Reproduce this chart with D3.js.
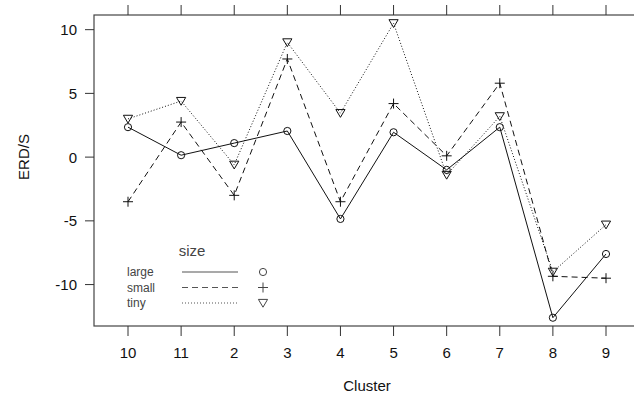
<!DOCTYPE html>
<meta charset='utf-8'>
<script src='https://d3js.org/d3.v7.min.js'></script>
<style>
body { margin: 0; background: #fff; }
text { font-family: "Liberation Sans", Arial, sans-serif; }
</style>
<body>
<script>
var clusters = ['10', '11', '2', '3', '4', '5', '6', '7', '8', '9'];
var sizes = ['large', 'small', 'tiny'];
var large = [2.35, 0.15, 1.1, 2.05, -4.85, 1.95, -1.0, 2.35, -12.6, -7.6];
var small = [-3.5, 2.75, -3.0, 7.7, -3.5, 4.2, 0.1, 5.8, -9.35, -9.5];
var tiny = [3.0, 4.4, -0.6, 9.0, 3.45, 10.5, -1.4, 3.2, -9.0, -5.3];
var yTicks = [-10, -5, 0, 5, 10];

var width = 634, height = 396;
var boxL = 94, boxT = 15, boxR = 640, boxB = 326;

var svg = d3.select('body').append('svg').attr('width', width).attr('height', height);

var x = d3.scalePoint().domain(clusters).range([128, 606]);
var y = d3.scaleLinear().domain([-13.25, 11.15]).range([boxB, boxT]);

var series = [
  {name: 'large', values: large, dash: null, shape: 'circle'},
  {name: 'small', values: small, dash: '6,4', shape: 'plus'},
  {name: 'tiny', values: tiny, dash: '1,2', shape: 'tri'}
];

function symbol(g, shape, cx, cy, col) {
  if (shape == 'circle') {
    g.append('circle').attr('cx', cx).attr('cy', cy).attr('r', 3.6)
      .attr('fill', 'none').attr('stroke', col).attr('stroke-width', 1);
  } else if (shape == 'plus') {
    g.append('path').attr('d', 'M' + (cx - 5) + ',' + cy + 'H' + (cx + 5) + 'M' + cx + ',' + (cy - 5) + 'V' + (cy + 5))
      .attr('fill', 'none').attr('stroke', col).attr('stroke-width', 1);
  } else {
    g.append('path').attr('d', 'M' + (cx - 4.6) + ',' + (cy - 3.6) + 'H' + (cx + 4.6) + 'L' + cx + ',' + (cy + 4.2) + 'Z')
      .attr('fill', 'none').attr('stroke', col).attr('stroke-width', 1);
  }
}

// box
svg.append('rect').attr('x', boxL).attr('y', boxT).attr('width', boxR - boxL).attr('height', boxB - boxT)
  .attr('fill', 'none').attr('stroke', '#444').attr('stroke-width', 1.2);

// x ticks top and bottom
clusters.forEach(function(c) {
  svg.append('line').attr('x1', x(c)).attr('x2', x(c)).attr('y1', boxT - 10).attr('y2', boxT).attr('stroke', '#333');
  svg.append('line').attr('x1', x(c)).attr('x2', x(c)).attr('y1', boxB).attr('y2', boxB + 10).attr('stroke', '#333');
  svg.append('text').attr('x', x(c)).attr('y', 358).attr('text-anchor', 'middle')
    .attr('font-size', 15).attr('fill', '#111').text(c);
});

yTicks.forEach(function(t) {
  svg.append('line').attr('x1', boxL - 9).attr('x2', boxL).attr('y1', y(t)).attr('y2', y(t)).attr('stroke', '#333');
  svg.append('text').attr('x', 77).attr('y', y(t)).attr('dy', '0.36em').attr('text-anchor', 'end')
    .attr('font-size', 15).attr('fill', '#111').text(t);
});

svg.append('text').attr('transform', 'translate(29,157) rotate(-90)').attr('text-anchor', 'middle')
  .attr('font-size', 15).attr('fill', '#111').text('ERD/S');
svg.append('text').attr('x', 367).attr('y', 391).attr('text-anchor', 'middle')
  .attr('font-size', 15).attr('fill', '#111').text('Cluster');

var line = d3.line().x(function(d, i) { return x(clusters[i]); }).y(function(d) { return y(d); });

series.forEach(function(s) {
  var g = svg.append('g');
  g.append('path').datum(s.values).attr('d', line).attr('fill', 'none')
    .attr('stroke', '#111').attr('stroke-width', 1).attr('stroke-dasharray', s.dash);
  s.values.forEach(function(v, i) { symbol(g, s.shape, x(clusters[i]), y(v), '#111'); });
});

// legend
var lg = svg.append('g');
lg.append('text').attr('x', 192).attr('y', 256).attr('text-anchor', 'middle')
  .attr('font-size', 15).attr('fill', '#444').text('size');
series.forEach(function(s, i) {
  var ry = 272 + i * 15.5;
  lg.append('text').attr('x', 127).attr('y', ry).attr('dy', '0.36em')
    .attr('font-size', 12).attr('fill', '#444').text(s.name);
  lg.append('line').attr('x1', 182).attr('x2', 238).attr('y1', ry).attr('y2', ry)
    .attr('stroke', '#555').attr('stroke-width', 1.2).attr('stroke-dasharray', s.dash);
  symbol(lg, s.shape, 263, ry, '#444');
});
</script>
</body>
